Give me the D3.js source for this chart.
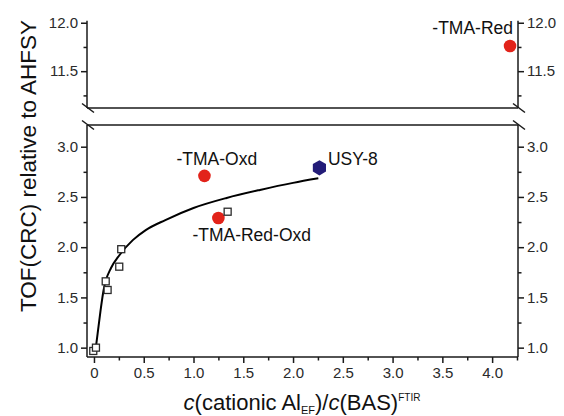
<!DOCTYPE html>
<html><head><meta charset="utf-8">
<script src="https://cdn.jsdelivr.net/npm/d3@7"></script>
<style>
body{margin:0;background:#fff;}
svg{display:block;font-family:"Liberation Sans",Arial,sans-serif;}
.axis path,.axis line{stroke:#1a1a1a;stroke-width:1.5px;}
.axis text{font-size:15px;fill:#2a2a2a;font-family:"Liberation Sans",Arial,sans-serif;}
</style></head>
<body>
<svg id="chart" width="564" height="416"></svg>
<script>
// ---- data ----
const xTicks = [0, 0.5, 1.0, 1.5, 2.0, 2.5, 3.0, 3.5, 4.0];
const xTickLabels = ["0", "0.5", "1.0", "1.5", "2.0", "2.5", "3.0", "3.5", "4.0"];
const xMinor = [0.25, 0.75, 1.25, 1.75, 2.25, 2.75, 3.25, 3.75, 4.25];
const yLowTicks = [1.0, 1.5, 2.0, 2.5, 3.0];
const yLowLabels = ["1.0", "1.5", "2.0", "2.5", "3.0"];
const yLowMinor = [1.25, 1.75, 2.25, 2.75];
const yHighTicks = [11.5, 12.0];
const yHighLabels = ["11.5", "12.0"];
const yHighMinor = [11.25, 11.75];

const squareX = [-0.007, 0.02, 0.118, 0.137, 0.254, 0.274, 1.343];
const squareY = [0.967, 1.0, 1.66, 1.574, 1.806, 1.98, 2.353];

const tmaNames = ["-TMA-Oxd", "-TMA-Red-Oxd", "-TMA-Red"];
const tmaX = [1.11, 1.25, 4.18];
const tmaY = [2.71, 2.29, 11.76];

const usyName = "USY-8";
const usyX = [2.265];
const usyY = [2.79];

const fitX = [0.02, 0.037, 0.067, 0.097, 0.12, 0.17, 0.255, 0.39, 0.52, 0.717, 1.0, 1.333, 1.668, 2.0, 2.254];
const fitY = [1.01, 1.143, 1.375, 1.574, 1.67, 1.79, 1.92, 2.07, 2.17, 2.27, 2.39, 2.49, 2.57, 2.64, 2.685];

// ---- layout ----
const svg = d3.select("#chart");
const L = 87, R = 518;
const lowTop = 125, lowBot = 357;
const highTop = 20.8, highBot = 108;

const x = d3.scaleLinear().domain([-0.07, 4.26]).range([L, R]);
const yLow = d3.scaleLinear().domain([0.907, 3.216]).range([lowBot, lowTop]);
const yHigh = d3.scaleLinear().domain([11.12, 12.02]).range([highBot, highTop]);

function styleAxis(g){ g.select(".domain").remove(); g.attr("class","axis"); }

// x axis
svg.append("g").attr("transform",`translate(0,${lowBot})`)
  .call(d3.axisBottom(x).tickValues(xTicks).tickFormat((d,i)=>xTickLabels[i]).tickSize(6).tickPadding(4))
  .call(styleAxis);
svg.append("g").attr("transform",`translate(0,${lowBot})`)
  .call(d3.axisBottom(x).tickValues(xMinor.filter(v=>x(v)<=R)).tickFormat("").tickSize(3.5))
  .call(styleAxis);

// y axes (both panels, both sides)
[[d3.axisLeft, L],[d3.axisRight, R]].forEach(([ax,pos])=>{
  svg.append("g").attr("transform",`translate(${pos},0)`)
    .call(ax(yLow).tickValues(yLowTicks).tickFormat((d,i)=>yLowLabels[i]).tickSize(6).tickPadding(3))
    .call(styleAxis);
  svg.append("g").attr("transform",`translate(${pos},0)`)
    .call(ax(yLow).tickValues(yLowMinor).tickFormat("").tickSize(3.5))
    .call(styleAxis);
  svg.append("g").attr("transform",`translate(${pos},0)`)
    .call(ax(yHigh).tickValues(yHighTicks).tickFormat((d,i)=>yHighLabels[i]).tickSize(6).tickPadding(3))
    .call(styleAxis);
  svg.append("g").attr("transform",`translate(${pos},0)`)
    .call(ax(yHigh).tickValues(yHighMinor).tickFormat("").tickSize(3.5))
    .call(styleAxis);
});

const frame = svg.append("g").attr("stroke","#1a1a1a").attr("stroke-width",1.5).attr("fill","none");
frame.append("line").attr("x1",L).attr("x2",L).attr("y1",lowTop).attr("y2",lowBot);
frame.append("line").attr("x1",R).attr("x2",R).attr("y1",lowTop).attr("y2",lowBot);
frame.append("line").attr("x1",L).attr("x2",L).attr("y1",highTop).attr("y2",highBot);
frame.append("line").attr("x1",R).attr("x2",R).attr("y1",highTop).attr("y2",highBot);
frame.append("line").attr("x1",L).attr("x2",R).attr("y1",lowBot).attr("y2",lowBot);
frame.append("line").attr("x1",L).attr("x2",R).attr("y1",highBot).attr("y2",highBot);
frame.append("line").attr("x1",L).attr("x2",R).attr("y1",lowTop).attr("y2",lowTop);
[L, R].forEach(px=>{
  [highBot, lowTop].forEach(py=>{
    frame.append("line").attr("x1",px-5).attr("x2",px+7).attr("y1",py-4.5).attr("y2",py+4.5);
  });
});

// fit curve
const line = d3.line().x(d=>x(d[0])).y(d=>yLow(d[1])).curve(d3.curveMonotoneX);
svg.append("path").datum(fitX.map((v,i)=>[v,fitY[i]]))
  .attr("d",line).attr("fill","none").attr("stroke","#000").attr("stroke-width",2);

// red circles
const tmaData = tmaNames.map((n,i)=>({n, x:tmaX[i], y:tmaY[i], sc: tmaY[i] > 5 ? yHigh : yLow}));
svg.selectAll("circle.tma").data(tmaData).enter().append("circle")
  .attr("cx",d=>x(d.x)).attr("cy",d=>d.sc(d.y)).attr("r",6.3).attr("fill","#e2231a");

// squares
const s = 7;
svg.selectAll("rect.sq").data(squareX.map((v,i)=>[v,squareY[i]])).enter().append("rect")
  .attr("x",d=>x(d[0])-s/2).attr("y",d=>yLow(d[1])-s/2).attr("width",s).attr("height",s)
  .attr("fill","#fff").attr("stroke","#2b2b2b").attr("stroke-width",1.3);

// hexagon
const hx = x(usyX[0]), hy = yLow(usyY[0]), hr = 7.6;
const hexPts = d3.range(6).map(k=>{const a = Math.PI/3*k - Math.PI/2; return [hx+hr*Math.cos(a), hy+hr*Math.sin(a)];});
svg.append("polygon").attr("points",hexPts.map(p=>p.join(",")).join(" ")).attr("fill","#231c78");

// point labels
const labelOffsets = [[-28,-11,"start"],[-26,23,"start"],[3,-12,"end"]];
svg.selectAll("text.lbl").data(tmaData).enter().append("text")
  .attr("x",(d,i)=>x(d.x)+labelOffsets[i][0]).attr("y",(d,i)=>d.sc(d.y)+labelOffsets[i][1])
  .attr("text-anchor",(d,i)=>labelOffsets[i][2])
  .attr("font-size",17.5).attr("fill","#111").text(d=>d.n);
svg.append("text").attr("x",hx+8.5).attr("y",hy-3).attr("font-size",17.5).attr("fill","#111").text(usyName);

// axis titles
const xt = svg.append("text").attr("x",302).attr("y",410).attr("text-anchor","middle")
  .attr("font-size",22).attr("fill","#111");
xt.append("tspan").attr("font-style","italic").text("c");
xt.append("tspan").text("(cationic Al");
xt.append("tspan").attr("font-size",11).attr("dy",4).text("EF");
xt.append("tspan").attr("dy",-4).text(")/");
xt.append("tspan").attr("font-style","italic").text("c");
xt.append("tspan").text("(BAS)");
xt.append("tspan").attr("font-size",10).attr("dy",-9).text("FTIR");

svg.append("text").attr("transform","translate(36,166) rotate(-90)").attr("text-anchor","middle")
  .attr("font-size",22.5).attr("fill","#111").text("TOF(CRC) relative to AHFSY");
</script>
</body></html>
